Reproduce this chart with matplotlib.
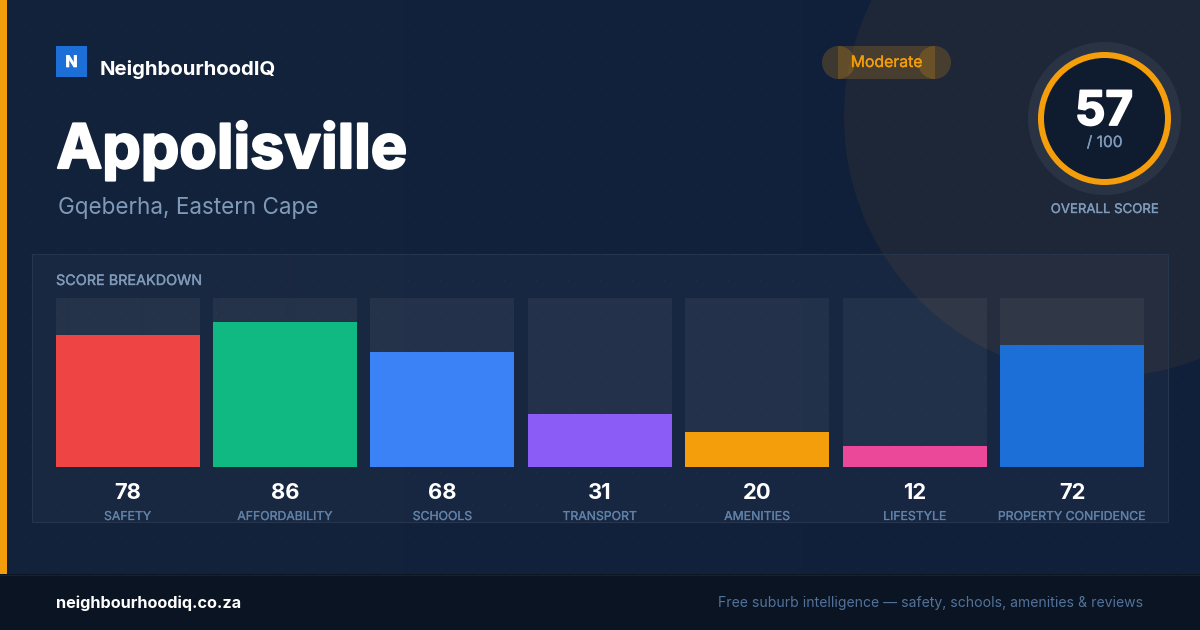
import numpy as np
import matplotlib
matplotlib.use("Agg")
import matplotlib.pyplot as plt
import matplotlib.patheffects as pe
from matplotlib.patches import Rectangle, Circle
from matplotlib.transforms import blended_transform_factory as blend

categories = ["SAFETY", "AFFORDABILITY", "SCHOOLS", "TRANSPORT", "AMENITIES", "LIFESTYLE", "PROPERTY CONFIDENCE"]
scores = [78, 86, 68, 31, 20, 12, 72]
bar_colors = ["#ef4444", "#10b981", "#3b82f6", "#8b5cf6", "#f59e0b", "#ec4899", "#1d6fd8"]
overall = 57

W, H = 1200, 630
plt.rcParams["font.family"] = ["Inter", "DejaVu Sans"]

fig = plt.figure(figsize=(W / 100, H / 100), dpi=100)
root = fig.add_axes([0, 0, 1, 1])
root.set_xlim(0, W); root.set_ylim(H, 0); root.axis("off")

def px(n):
    return n * 0.72

def txt(x, y, s, size, color="white", weight="normal", ha="left", stroke=0.0, transform=None):
    t = root.text(x, y, s, fontsize=px(size), color=color, fontweight=weight, ha=ha, va="baseline",
                  zorder=10, transform=transform if transform is not None else root.transData)
    if stroke:
        t.set_path_effects([pe.withStroke(linewidth=stroke, foreground=color)])
    return t

# background
grad = np.linspace(0, 1, 256).reshape(1, -1)
c0, c1 = np.array([0x13, 0x23, 0x3b]) / 255, np.array([0x10, 0x20, 0x3b]) / 255
img = c0[None, None, :] * (1 - grad[..., None]) + c1[None, None, :] * grad[..., None]
root.imshow(img, extent=[0, W, H, 0], aspect="auto", zorder=0)
root.set_xlim(0, W); root.set_ylim(H, 0)
root.add_patch(Circle((1104, 117), 260, fc="#1e2738", ec="none", zorder=1))

# dot grid
gx, gy = np.meshgrid(np.arange(24, W, 32), np.arange(24, 574, 32))
root.scatter(gx.ravel(), gy.ravel(), s=1.2, c="white", alpha=0.035, linewidths=0, zorder=1.5)

# left strip and footer
root.add_patch(Rectangle((0, 0), 7, 574, fc="#f59e0b", ec="none", zorder=3))
root.add_patch(Rectangle((0, 574), W, 56, fc="#0b1422", ec="none", zorder=3))
root.plot([0, W], [574.5, 574.5], color="#172235", lw=0.8, zorder=4)

# header
root.add_patch(Rectangle((56, 46), 31, 31, fc="#1d6fd8", ec="none", zorder=3))
txt(71.5, 67, "N", 16, weight="bold", ha="center", stroke=0.5)
txt(100, 75, "NeighbourhoodIQ", 20.35, weight="bold")
txt(56.5, 168, "Appolisville", 61.2, weight="bold", stroke=1.6)
txt(58, 214, "Gqeberha, Eastern Cape", 22.5, color="#7f9ab8")

# pill
for patch in (Rectangle((838, 46), 97, 33, ec="none", fc="#f59e0b"),
              Circle((838.5, 62.5), 16.5, ec="none", fc="#f59e0b"),
              Circle((934.5, 62.5), 16.5, ec="none", fc="#f59e0b")):
    patch.set_alpha(0.2); patch.set_zorder(3)
    root.add_patch(patch)
txt(886.5, 67, "Moderate", 15.8, color="#f59e0b", ha="center", stroke=0.2)

# score ring
root.add_patch(Circle((1104.5, 118.5), 76.5, fc="#2a3344", ec="none", zorder=3))
root.add_patch(Circle((1104.5, 118.5), 63.5, fc="#0f1b2e", ec="#f59e0b", lw=px(6), zorder=4))
txt(1104, 125, str(overall), 47.5, weight="bold", ha="center", stroke=1.3)
txt(1104.5, 147, "/ 100", 15.5, color="#7f9ab8", ha="center", stroke=0.2)
txt(1104.5, 213, "OVERALL SCORE", 13.2, color="#7f9ab8", ha="center", stroke=0.25)

# panel
root.add_patch(Rectangle((32, 254), 1136, 268, fc="white", alpha=0.03, ec="none", zorder=2))
root.add_patch(Rectangle((32, 254), 1136, 268, fc="none", ec="#26344c", lw=0.8, zorder=2.1))
txt(56, 285, "SCORE BREAKDOWN", 14.4, color="#7f9ab8", stroke=0.25)

# bars: score axis runs 0..100 over 168 px, zero sits just above the strip's lower edge
pitch = 157.4
bar_px = 144.0
left_px = 55.6
ax = fig.add_axes([left_px / W, 1 - 467 / H, (6 * pitch + bar_px) / W, 169 / H], facecolor="none", zorder=5)
bw = bar_px / pitch
x = np.arange(len(scores))
base = -0.95 / 1.68
top = (466.05 - 298) / 1.68
ax.bar(x, [top - base] * len(scores), bottom=base, width=bw, color="white", alpha=0.05, linewidth=0)
ax.bar(x, np.array(scores) - base, bottom=base, width=bw, color=bar_colors, linewidth=0)
ax.set_xlim(-bw / 2, len(scores) - 1 + bw / 2)
ax.set_ylim(base, top)
ax.axis("off")

tr = blend(ax.transData, root.transData)
for xi, s, c in zip(x, scores, categories):
    txt(xi, 499, str(s), 22, weight="bold", ha="center", transform=tr)
    txt(xi, 520, c, 12.25, color="#6080a6", ha="center", stroke=0.2, transform=tr)

# footer text
txt(56, 608, "neighbourhoodiq.co.za", 16.25, weight="bold")
txt(1143, 607, "Free suburb intelligence — safety, schools, amenities & reviews", 14, color="#5272 9a".replace(" ", ""), ha="right")

fig.savefig("out.png", dpi=100)
